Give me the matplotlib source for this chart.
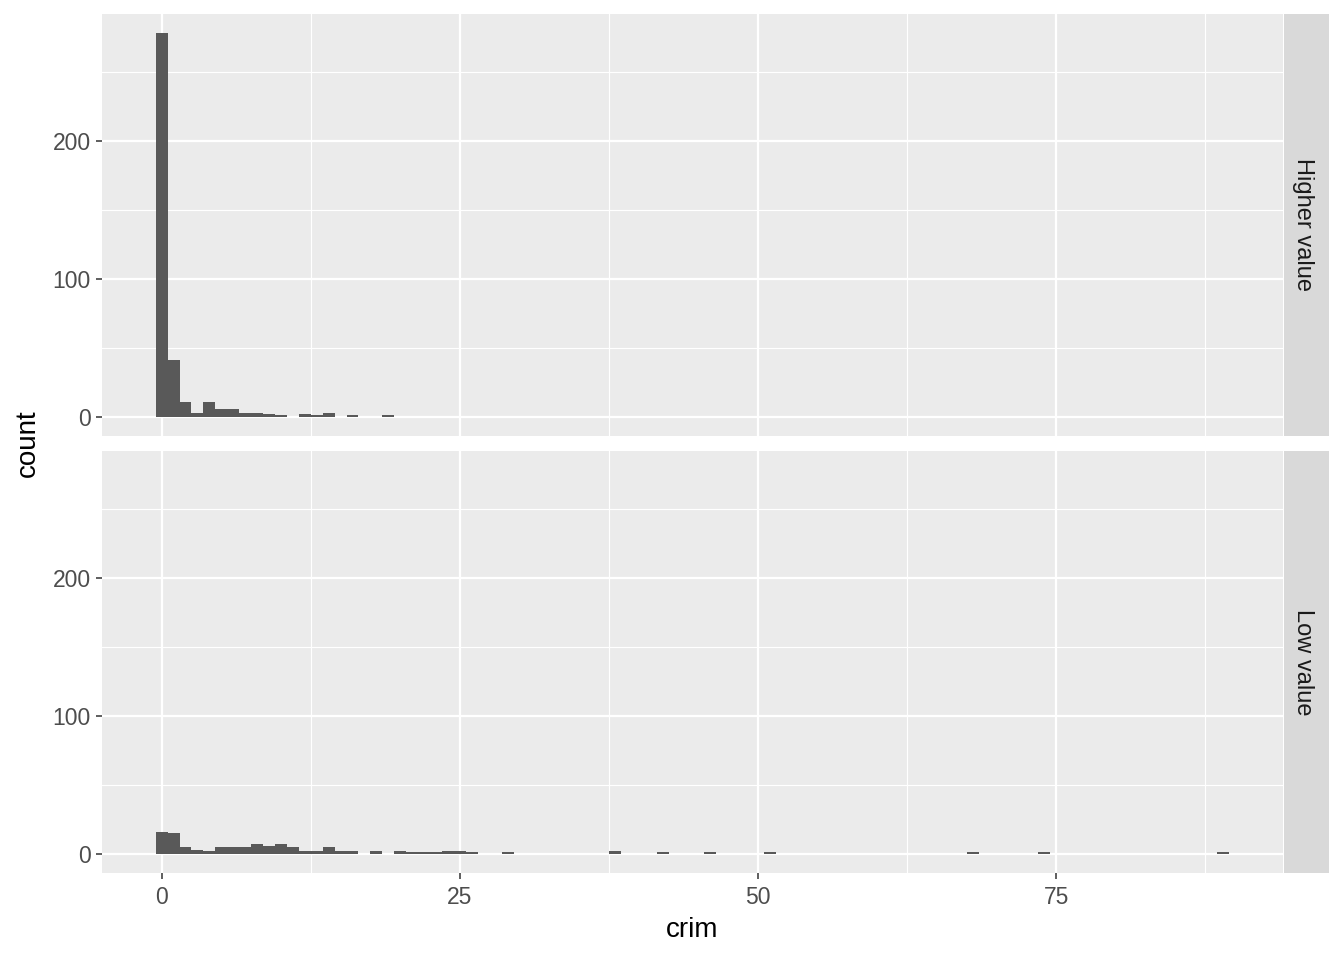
import numpy as np
import matplotlib
matplotlib.use("Agg")
import matplotlib.pyplot as plt
from matplotlib.ticker import MultipleLocator

plt.rcParams['font.family'] = ['Liberation Sans', 'DejaVu Sans']

# histogram of crim, binwidth 1, bins centred on integers
facets = ['Higher value', 'Low value']
higher_bins = [0, 1, 2, 3, 4, 5, 6, 7, 8, 9, 10, 12, 13, 14, 16, 19]
higher_counts = [278, 41, 11, 3, 11, 6, 6, 3, 3, 2, 1, 2, 1, 3, 1, 1]
low_bins = [0, 1, 2, 3, 4, 5, 6, 7, 8, 9, 10, 11, 12, 13, 14, 15, 16, 18, 20,
            21, 22, 23, 24, 25, 26, 29, 38, 42, 46, 51, 68, 74, 89]
low_counts = [16, 15, 5, 3, 2, 5, 5, 5, 7, 6, 7, 5, 2, 2, 5, 2, 2, 2, 2,
              1, 1, 1, 2, 2, 1, 1, 2, 1, 1, 1, 1, 1, 1]

W, H = 1344, 960
fig = plt.figure(figsize=(W / 100, H / 100), dpi=100)

def px(x0, y0, x1, y1):
    return [x0 / W, 1 - y1 / H, (x1 - x0) / W, (y1 - y0) / H]

panels = [(14, 436), (451, 873)]
data = [(higher_bins, higher_counts), (low_bins, low_counts)]
ymax = max(higher_counts + low_counts)

for i, ((y0, y1), (b, c), name) in enumerate(zip(panels, data, facets)):
    ax = fig.add_axes(px(102, y0, 1283, y1))
    ax.set_facecolor('#EBEBEB')
    ax.bar(b, c, width=1, color='#595959', zorder=3)
    ax.set_xlim(-5, 94)
    ax.set_ylim(-0.05 * ymax, 1.05 * ymax)
    ax.xaxis.set_major_locator(MultipleLocator(25))
    ax.xaxis.set_minor_locator(MultipleLocator(12.5))
    ax.yaxis.set_major_locator(MultipleLocator(100))
    ax.yaxis.set_minor_locator(MultipleLocator(50))
    ax.grid(which='major', color='white', lw=1.6, zorder=1)
    ax.grid(which='minor', color='white', lw=0.8, zorder=1)
    ax.set_axisbelow(True)
    for s in ax.spines.values():
        s.set_visible(False)
    ax.tick_params(which='minor', length=0)
    ax.tick_params(which='major', length=4, width=1.1, color='#333333',
                   labelcolor='#4D4D4D', labelsize=16.5, pad=4)
    ax.tick_params(axis='x', pad=5)
    if i == 0:
        ax.tick_params(axis='x', which='both', length=0, labelbottom=False)

    strip = fig.add_axes(px(1284, y0, 1329, y1))
    strip.set_facecolor('#D9D9D9')
    strip.set_xticks([])
    strip.set_yticks([])
    for s in strip.spines.values():
        s.set_visible(False)
    strip.text(0.42, 0.5, name, rotation=-90, ha='center', va='center',
               fontsize=17, color='#1A1A1A', transform=strip.transAxes)

fig.text(28 / W, 1 - 443 / H, 'count', rotation=90, ha='center', va='center',
         fontsize=20)
fig.text(692 / W, 1 - 930 / H, 'crim', ha='center', va='center', fontsize=20)

fig.savefig('out.png', dpi=100, facecolor='white')
